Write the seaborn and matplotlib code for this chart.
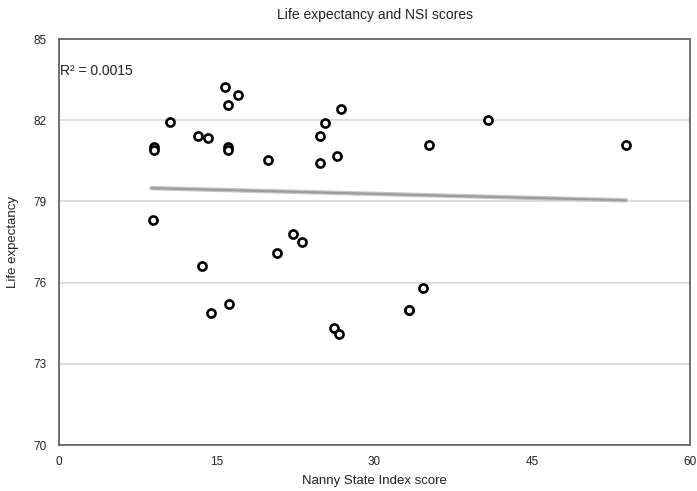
import matplotlib
matplotlib.use("Agg")
import matplotlib.pyplot as plt
import seaborn as sns
import pandas as pd

# Data
nsi_score = [8.95, 9.05, 9.05, 10.57, 13.24, 14.19, 15.8, 16.1, 17.05, 16.1, 16.1,
             19.9, 24.86, 25.27, 26.86, 24.86, 26.4, 35.14, 40.76, 53.9,
             13.55, 14.5, 16.13, 20.76, 22.29, 23.14, 26.16, 26.67, 34.6, 33.3, 33.3]
life_expectancy = [78.3, 81.0, 80.9, 81.93, 81.41, 81.33, 83.22, 82.56, 82.93, 81.0, 80.9,
                   80.52, 81.41, 81.9, 82.42, 80.41, 80.68, 81.1, 81.99, 81.1,
                   76.6, 74.89, 75.21, 77.09, 77.81, 77.5, 74.31, 74.11, 75.79, 75.0, 75.0]
# linear trend line as drawn in the reference (endpoints)
trend_x = [8.8, 53.9]
trend_y = [79.49, 79.04]
x_ticks = [0, 15, 30, 45, 60]
y_ticks = [70, 73, 76, 79, 82, 85]
r2_label = "R² = 0.0015"
title = "Life expectancy and NSI scores"
x_label = "Nanny State Index score"
y_label = "Life expectancy"

df = pd.DataFrame({"nsi": nsi_score, "life": life_expectancy})
trend = pd.DataFrame({"x": trend_x, "y": trend_y})

sns.set_theme(style="white")
plt.rcParams['font.family'] = ['Liberation Sans', 'DejaVu Sans']

fig = plt.figure(figsize=(6.97, 4.91), dpi=100)
ax = fig.add_axes([59/697, 1 - 445/491, (690 - 59)/697, (445 - 39)/491])

ax.set_axisbelow(True)
ax.yaxis.grid(True, color="#d8d8d8", linewidth=1.2)
ax.xaxis.grid(False)

# trend line: light wide band with a darker core
sns.lineplot(data=trend, x="x", y="y", ax=ax, color="#c4c4c4", linewidth=3.2, zorder=2)
sns.lineplot(data=trend, x="x", y="y", ax=ax, color="#9a9a9a", linewidth=1.4, zorder=2)

sns.scatterplot(data=df, x="nsi", y="life", ax=ax, s=34, facecolor="white",
                edgecolor="black", linewidth=1.9, zorder=3)

ax.set_xlim(0, 60)
ax.set_ylim(70, 85)
ax.set_xticks(x_ticks)
ax.set_yticks(y_ticks)
ax.tick_params(axis="x", length=0, labelsize=8.5, colors="#222222", pad=8)
ax.tick_params(axis="y", length=0, labelsize=8.5, colors="#222222", pad=9)
for s in ax.spines.values():
    s.set_color("#666666")
    s.set_linewidth(1.3)

ax.set_xlabel(x_label, fontsize=9.5, color="#222222", labelpad=5)
ax.set_ylabel(y_label, fontsize=9.5, color="#222222", labelpad=10)
fig.text(375/697, 1 - 15/491, title, ha="center", va="center", fontsize=10, color="#222222")
ax.text(0.002, 0.922, r2_label, transform=ax.transAxes, ha="left", va="center",
        fontsize=10, color="#222222")

fig.savefig("out.png", dpi=100)
